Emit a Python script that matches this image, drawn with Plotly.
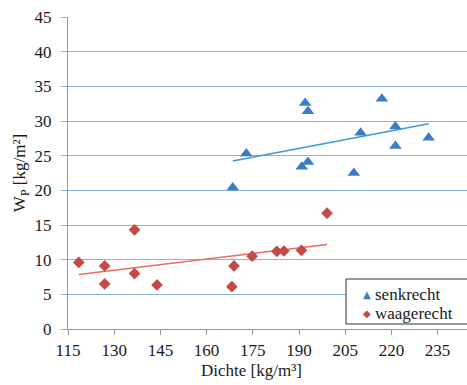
import numpy as np
import plotly.graph_objects as go

# Data
senk_x = [168.5, 172.9, 190.9, 192.0, 192.9, 192.9, 207.8, 210.0, 216.9, 221.3, 221.3, 232.1]
senk_y = [20.4, 25.3, 23.4, 32.6, 31.4, 24.1, 22.5, 28.3, 33.2, 29.2, 26.4, 27.6]

waag_x = [118.5, 126.9, 126.9, 136.6, 136.6, 143.9, 168.2, 168.9, 174.8, 182.8, 185.1, 190.8, 199.1]
waag_y = [9.6, 9.1, 6.5, 14.3, 8.0, 6.35, 6.1, 9.1, 10.5, 11.2, 11.25, 11.35, 16.7]

x_ticks = [115, 130, 145, 160, 175, 190, 205, 220, 235]
y_ticks = [0, 5, 10, 15, 20, 25, 30, 35, 40, 45]

names = ["senkrecht", "waagerecht"]

BLUE = "#3b7cc4"
RED = "#c34a47"
BLUE_LINE = "#3a9ae0"
RED_LINE = "#f06a60"
GRID = "#88b4da"
AXIS = "#8a9ab0"
FONT = "Liberation Serif, Times New Roman, serif"
TXT = "#1a1a1a"


def trend(xs, ys):
    k, d = np.polyfit(xs, ys, 1)
    xx = np.array([min(xs), max(xs)])
    return xx, k * xx + d


fig = go.Figure()

tx, ty = trend(senk_x, senk_y)
fig.add_trace(go.Scatter(x=tx, y=ty, mode="lines", line=dict(color=BLUE_LINE, width=1.5),
                         showlegend=False, hoverinfo="skip"))
tx, ty = trend(waag_x, waag_y)
fig.add_trace(go.Scatter(x=tx, y=ty, mode="lines", line=dict(color=RED_LINE, width=1.5),
                         showlegend=False, hoverinfo="skip"))

fig.add_trace(go.Scatter(x=senk_x, y=senk_y, mode="markers", name=names[0],
                         marker=dict(symbol="triangle-up", size=11, color=BLUE),
                         showlegend=False))
fig.add_trace(go.Scatter(x=waag_x, y=waag_y, mode="markers", name=names[1],
                         marker=dict(symbol="diamond", size=9, color=RED),
                         showlegend=False))

W, H = 467, 385
L, R, T, B = 68, 0, 17, 56
pw, ph = W - L - R, H - T - B


def px_x(p):
    return (p - L) / pw


def px_y(p):
    return (H - B - p) / ph


# Legend box (drawn by hand so the symbol sits right next to its label)
fig.add_shape(type="rect", xref="paper", yref="paper",
              x0=px_x(346), x1=px_x(480), y0=px_y(324), y1=px_y(279),
              line=dict(color="#333333", width=1), fillcolor="white", layer="above")
legend_items = [(names[0], "▲", BLUE, 294), (names[1], "◆", RED, 313)]
for name, sym, col, ypix in legend_items:
    fig.add_annotation(xref="paper", yref="paper", x=px_x(367), y=px_y(ypix),
                       text=sym, showarrow=False, xanchor="center", yanchor="middle",
                       font=dict(family="DejaVu Sans", size=10, color=col))
    fig.add_annotation(xref="paper", yref="paper", x=px_x(373), y=px_y(ypix),
                       text=name, showarrow=False, xanchor="left", yanchor="middle",
                       font=dict(family=FONT, size=17, color=TXT))

# X axis title
fig.add_annotation(xref="paper", yref="paper", x=px_x(251), y=px_y(370),
                   text="Dichte [kg/m³]", showarrow=False, xanchor="center", yanchor="middle",
                   font=dict(family=FONT, size=17, color=TXT))

fig.update_layout(
    width=W, height=H,
    margin=dict(l=L, r=R, t=T, b=B, pad=0, autoexpand=False),
    paper_bgcolor="white", plot_bgcolor="white",
    font=dict(family=FONT, size=17, color=TXT),
    showlegend=False,
)
fig.update_xaxes(range=[115, 115 + pw / 3.08], tickmode="array", tickvals=x_ticks,
                 ticktext=[str(v) for v in x_ticks], automargin=False,
                 tickfont=dict(family=FONT, size=17, color=TXT),
                 showgrid=False, zeroline=False, showline=True, linecolor=AXIS, linewidth=1,
                 ticks="outside", ticklen=5, tickcolor=AXIS, ticklabelstandoff=1)
fig.update_yaxes(range=[0, 45], tickmode="array", tickvals=y_ticks,
                 ticktext=[str(v) for v in y_ticks], automargin=False,
                 tickfont=dict(family=FONT, size=17, color=TXT),
                 showgrid=True, gridcolor=GRID, gridwidth=1, zeroline=False,
                 showline=True, linecolor=AXIS, linewidth=1,
                 ticks="outside", ticklen=6, tickcolor=GRID, ticklabelstandoff=6,
                 title=dict(text="W<sub>P</sub> [kg/m²]", standoff=4,
                            font=dict(family=FONT, size=17, color=TXT)))

fig.write_html("out.html", config={"displayModeBar": False},
               post_script="document.body.style.margin='0px';")
